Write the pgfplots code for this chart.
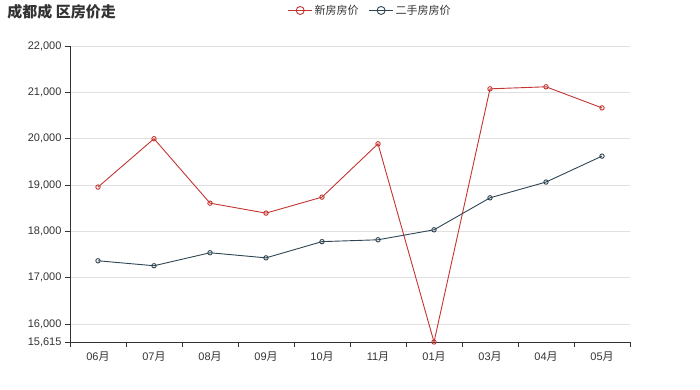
\documentclass[border=0pt]{standalone}
\usepackage{pgfplots}
\pgfplotsset{compat=1.18}
\usepackage{fontspec}
\setmainfont{Liberation Sans}
\newfontfamily\cjk{Noto Sans CJK SC}
\definecolor{cred}{HTML}{C23531}
\definecolor{cdark}{HTML}{2F4554}
\definecolor{axc}{HTML}{333333}
\definecolor{gridc}{HTML}{E0E0E0}
\begin{document}
\begin{tikzpicture}
\useasboundingbox (-70pt,-47pt) rectangle (630pt,342pt);
\begin{axis}[
  scale only axis, width=560pt, height=296pt,
  at={(0,0)}, anchor=south west,
  xmin=-0.5, xmax=9.5, ymin=15615, ymax=22000,
  axis x line*=bottom, axis y line*=left,
  axis line style={axc, line width=0.8pt},
  tick align=outside, major tick length=5pt,
  tick style={axc, line width=0.8pt},
  scaled y ticks=false,
  xtick={-0.5,0.5,1.5,2.5,3.5,4.5,5.5,6.5,7.5,8.5,9.5},
  xticklabels={},
  extra x ticks={0,1,2,3,4,5,6,7,8,9},
  extra x tick labels={{06\cjk 月},{07\cjk 月},{08\cjk 月},{09\cjk 月},{10\cjk 月},{11\cjk 月},{01\cjk 月},{03\cjk 月},{04\cjk 月},{05\cjk 月}},
  extra x tick style={major tick length=0pt, xticklabel style={yshift=-6pt}},
  ytick={15615,16000,17000,18000,19000,20000,21000,22000},
  yticklabels={{15,615},{16,000},{17,000},{18,000},{19,000},{20,000},{21,000},{22,000}},
  ymajorgrids, grid style={gridc, line width=0.8pt},
  ticklabel style={font=\fontsize{11}{13}\selectfont, text=axc},
  legend columns=2,
  legend style={draw=none, at={(0.536,1.12)}, anchor=center, font=\cjk\fontsize{11}{13}\selectfont, text=axc, /tikz/every even column/.append style={column sep=8pt}},
  legend image code/.code={\draw[mark repeat=2, mark phase=2, mark size=4pt] plot coordinates {(0pt,0pt) (12pt,0pt) (24pt,0pt)};},
  clip=false,
]
\addplot[cred, line width=0.9pt, mark=o, mark size=2.2pt, mark options={fill=white, line width=0.9pt}] coordinates {
(0,18957) (1,20000) (2,18610) (3,18395) (4,18740) (5,19890) (6,15615) (7,21076) (8,21120) (9,20665)};
\addlegendentry{新房房价}
\addplot[cdark, line width=0.9pt, mark=o, mark size=2.2pt, mark options={fill=white, line width=0.9pt}] coordinates {
(0,17367) (1,17260) (2,17540) (3,17430) (4,17780) (5,17820) (6,18035) (7,18725) (8,19065) (9,19625)};
\addlegendentry{二手房房价}
\node[anchor=west, font=\cjk\bfseries\fontsize{15}{18}\selectfont, text=axc] at (rel axis cs:-0.118,1.115) {成都成\ 区房价走};
\end{axis}
\end{tikzpicture}
\end{document}
